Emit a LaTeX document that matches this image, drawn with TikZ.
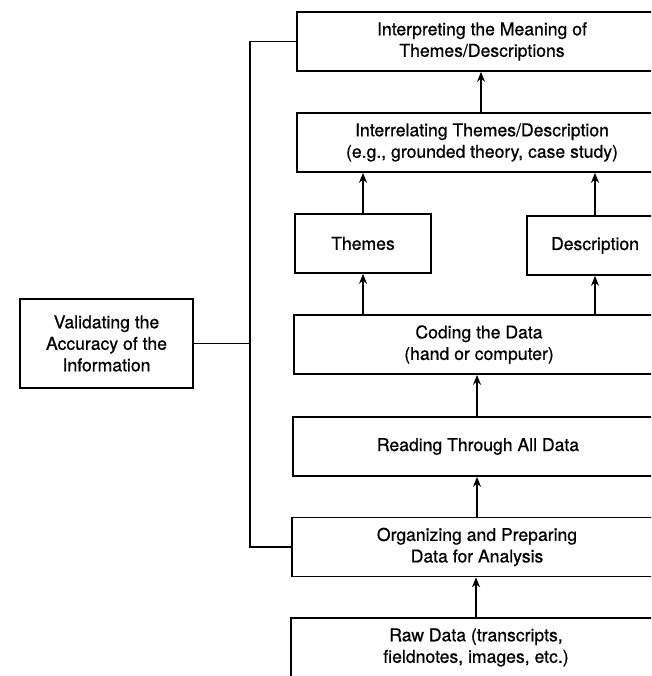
\documentclass[tikz,border=0pt]{standalone}
\usepackage{fontspec}
\setmainfont{TeX Gyre Heros}[FakeBold=0.7]
\usetikzlibrary{arrows.meta}
\begin{document}
\begin{tikzpicture}[x=1pt,y=-1pt,
  box/.style={draw=black, line width=1.7pt, rectangle, align=center, inner sep=0pt,
    minimum height=59pt, font=\fontsize{17.6}{21.5}\selectfont},
  widebox/.style={box, minimum width=370pt},
  smallbox/.style={box, minimum width=136pt},
  link/.style={line width=1.6pt},
  arr/.style={line width=1.6pt, -{Stealth[length=10pt,width=8pt]}}]
\useasboundingbox (0,0) rectangle (651,676);
\fill[white] (0,0) rectangle (651,676);
\clip (0,0) rectangle (651,676);

\node[widebox] (interp) at (482,41.5) {Interpreting the Meaning of\\Themes/Descriptions};
\node[widebox] (interrel) at (482,142.5) {Interrelating Themes/Description\\(e.g., grounded theory, case study)};
\node[smallbox] (themes) at (363,243.5) {Themes};
\node[smallbox] (desc) at (595,245.5) {Description};
\node[widebox] (coding) at (479,344.5) {Coding the Data\\(hand or computer)};
\node[widebox] (reading) at (478,446.5) {Reading Through All Data};
\node[widebox] (org) at (477,547) {Organizing and Preparing\\Data for Analysis};
\node[widebox] (raw) at (476,647.5) {Raw Data (transcripts,\\fieldnotes, images, etc.)};
\node[box, minimum width=173pt, minimum height=89pt] (valid) at (106.5,343.5) {Validating the\\Accuracy of the\\Information};

\coordinate (bt) at (250,41.5);
\coordinate (bb) at (250,547);
\coordinate (bm) at (250,343.5);

\draw[arr] (interrel.north -| 481,0) -- (interp.south -| 481,0);
\draw[arr] (themes.north) -- (themes.north |- interrel.south);
\draw[arr] (desc.north) -- (desc.north |- interrel.south);
\draw[arr] (themes.south |- coding.north) -- (themes.south);
\draw[arr] (desc.south |- coding.north) -- (desc.south);
\draw[arr] (reading.north -| 477,0) -- (coding.south -| 477,0);
\draw[arr] (org.north -| 477,0) -- (reading.south -| 477,0);
\draw[arr] (raw.north -| 476,0) -- (org.south -| 476,0);

\draw[link] (interp.west) -- (bt) -- (bb) -- (org.west);
\draw[link] (valid.east) -- (bm);
\end{tikzpicture}
\end{document}
